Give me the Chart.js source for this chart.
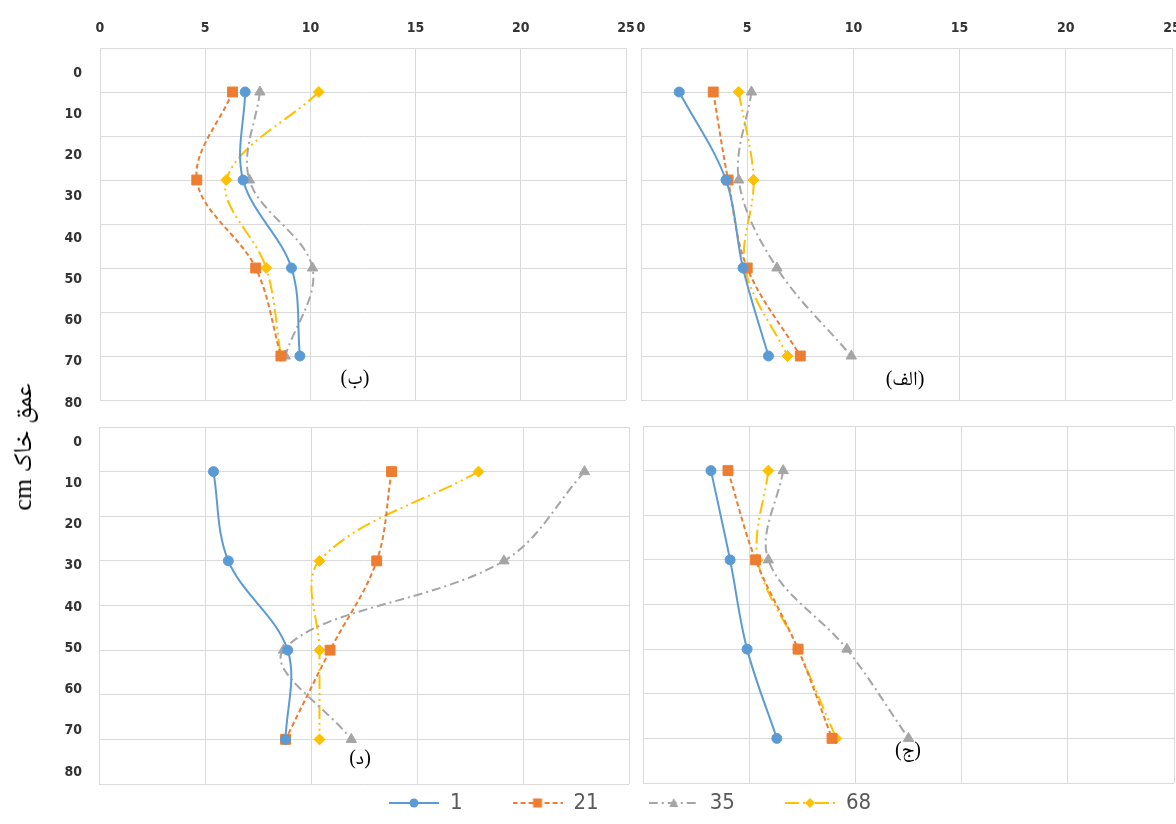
<!DOCTYPE html>
<html><head><meta charset="utf-8">
<script src="https://cdn.jsdelivr.net/npm/chart.js@4.4.1/dist/chart.umd.min.js"></script>
<style>
html,body{margin:0;padding:0;background:#fff;overflow:hidden;width:1176px;height:824px;}
canvas{position:absolute;}
.lbl{position:absolute;font-family:"Liberation Serif","Noto Naskh Arabic","DejaVu Sans",serif;font-size:20px;color:#000;white-space:nowrap;transform:translate(-50%,-50%);}
#ytitle{position:absolute;left:25px;top:447px;font-family:"Liberation Serif","Noto Naskh Arabic","DejaVu Sans",serif;font-size:26px;color:#000;white-space:nowrap;transform:translate(-50%,-50%) rotate(-90deg);}
</style></head><body>
<canvas id="pTL"></canvas><canvas id="pTR"></canvas><canvas id="pBL"></canvas><canvas id="pBR"></canvas>
<canvas id="yTop"></canvas><canvas id="yBot"></canvas><canvas id="leg"></canvas>
<div class="lbl" dir="rtl" style="left:355px;top:380px">(ب)</div>
<div class="lbl" dir="rtl" style="left:905px;top:381px">(الف)</div>
<div class="lbl" dir="rtl" style="left:360px;top:760px">(د)</div>
<div class="lbl" dir="rtl" style="left:908px;top:752px">(ج)</div>
<div id="ytitle" dir="rtl">عمق خاک cm</div>
<script>
// ---- data ----
const depths = [10, 30, 50, 70];
const seriesNames = ['1', '21', '35', '68'];
const xTickValues = [0, 5, 10, 15, 20, 25];
const yTickValues = [0, 10, 20, 30, 40, 50, 60, 70, 80];

// panel (الف) – top right
const alef1  = [1.8, 4.0, 4.8, 6.0];
const alef21 = [3.4, 4.1, 5.0, 7.5];
const alef35 = [5.2, 4.6, 6.4, 9.9];
const alef68 = [4.6, 5.3, 4.9, 6.9];
// panel (ب) – top left
const be1  = [6.9, 6.8, 9.1, 9.5];
const be21 = [6.3, 4.6, 7.4, 8.6];
const be35 = [7.6, 7.1, 10.1, 8.8];
const be68 = [10.4, 6.0, 7.9, 8.6];
// panel (ج) – bottom right
const jim1  = [3.2, 4.1, 4.9, 6.3];
const jim21 = [4.0, 5.3, 7.3, 8.9];
const jim35 = [6.6, 5.9, 9.6, 12.5];
const jim68 = [5.9, 5.4, 7.3, 9.1];
// panel (د) – bottom left
const dal1  = [5.4, 6.1, 8.9, 8.8];
const dal21 = [13.8, 13.1, 10.9, 8.8];
const dal35 = [22.9, 19.1, 8.7, 11.9];
const dal68 = [17.9, 10.4, 10.4, 10.4];

// ---- styles ----
const styles = [
  {color:'#5B9BD5', dash:[], point:'circle', r:5},
  {color:'#ED7D31', dash:[5,3], point:'rect', r:7},
  {color:'#A5A5A5', dash:[9,4,2,4], point:'triangle', r:6},
  {color:'#FFC000', dash:[14,4,2,4,2,4], point:'rectRot', r:5.5}
];
const gridColor = '#DADADA';
const tickFont = {family:'"Liberation Sans Narrow","DejaVu Sans Condensed","Liberation Sans",sans-serif', size:14, weight:'bold'};
const tickColor = '#333';

const xMin = xTickValues[0], xMax = xTickValues[xTickValues.length-1], xStep = xTickValues[1]-xTickValues[0];
const yMin = yTickValues[0], yMax = yTickValues[yTickValues.length-1], yStep = yTickValues[1]-yTickValues[0];

function buildDatasets(vals){
  return vals.map((arr, i) => ({
    label: seriesNames[i],
    data: arr.map((v, k) => ({x: v, y: depths[k]})),
    showLine: true,
    tension: 0.35,
    borderColor: styles[i].color,
    borderWidth: 2,
    borderDash: styles[i].dash,
    pointStyle: styles[i].point,
    pointRadius: styles[i].r,
    pointBackgroundColor: styles[i].color,
    pointBorderColor: styles[i].color,
    pointBorderWidth: 1
  }));
}

function makePanel(id, areaLeft, areaTop, areaW, areaH, vals, showX){
  const cv = document.getElementById(id);
  const padL = 12, padR = 12, padB = 2;
  const topSpace = showX ? areaTop : 2;
  const cTop = showX ? 0 : areaTop - 2;
  cv.width = areaW + padL + padR; cv.height = topSpace + areaH + padB;
  cv.style.left = (areaLeft - padL) + 'px'; cv.style.top = cTop + 'px';
  new Chart(cv, {
    type: 'scatter',
    data: {datasets: buildDatasets(vals)},
    options: {
      responsive:false, animation:false, devicePixelRatio:1,
      layout:{autoPadding:false, padding:{left:padL, right:padR, top: showX ? 0 : 2, bottom:padB}},
      plugins:{legend:{display:false}, tooltip:{enabled:false}},
      scales:{
        x:{type:'linear', position:'top', min:xMin, max:xMax,
           ticks:{stepSize:xStep, display:showX, font:tickFont, color:tickColor, padding:11, maxRotation:0},
           grid:{color:gridColor, drawTicks:false, lineWidth:1},
           border:{color:gridColor},
           afterFit:(s)=>{ s.height = showX ? areaTop : 0; s.paddingLeft = 0; s.paddingRight = 0; }},
        y:{type:'linear', position:'left', reverse:true, min:yMin, max:yMax,
           ticks:{stepSize:yStep, display:false},
           grid:{color:gridColor, drawTicks:false, lineWidth:1},
           border:{color:gridColor},
           afterFit:(s)=>{ s.width = 0; s.paddingTop = 0; s.paddingBottom = 0; }}
      }
    }
  });
}

makePanel('pTL', 100, 48, 526, 352, [be1, be21, be35, be68], true);
makePanel('pTR', 641, 48, 531, 352, [alef1, alef21, alef35, alef68], true);
makePanel('pBL', 99, 427, 530, 357, [dal1, dal21, dal35, dal68], false);
makePanel('pBR', 643, 426, 531, 357, [jim1, jim21, jim35, jim68], false);

// y-axis tick label columns
function makeYLabels(id, firstY, lastY){
  const cv = document.getElementById(id);
  const pad = 10;
  cv.width = 70; cv.height = (lastY - firstY) + 2*pad;
  cv.style.left = '30px'; cv.style.top = (firstY - pad) + 'px';
  new Chart(cv, {
    type:'scatter', data:{datasets:[]},
    options:{
      responsive:false, animation:false, devicePixelRatio:1,
      layout:{autoPadding:false, padding:{top:pad, bottom:pad, left:0, right:0}},
      plugins:{legend:{display:false}, tooltip:{enabled:false}},
      scales:{
        x:{display:false, min:0, max:1},
        y:{type:'linear', position:'left', reverse:true, min:yMin, max:yMax,
           ticks:{stepSize:yStep, font:tickFont, color:tickColor, padding:0},
           grid:{display:false, drawTicks:false}, border:{display:false},
           afterFit:(s)=>{ s.width = 52; s.paddingTop = 0; s.paddingBottom = 0; }}
      }
    }
  });
}
makeYLabels('yTop', 73, 403);
makeYLabels('yBot', 442, 772);

// legend
function sampleImage(st){
  const c = document.createElement('canvas');
  c.width = 50; c.height = 16;
  const g = c.getContext('2d');
  g.strokeStyle = st.color; g.lineWidth = 2; g.setLineDash(st.dash);
  g.beginPath(); g.moveTo(0, 8); g.lineTo(50, 8); g.stroke();
  g.setLineDash([]); g.fillStyle = st.color;
  const cx = 25, cy = 8;
  g.beginPath();
  if (st.point === 'circle') { g.arc(cx, cy, 4.5, 0, Math.PI*2); }
  else if (st.point === 'rect') { g.rect(cx-4.5, cy-4.5, 9, 9); }
  else if (st.point === 'triangle') { g.moveTo(cx, cy-5); g.lineTo(cx+4.5, cy+4); g.lineTo(cx-4.5, cy+4); g.closePath(); }
  else { g.moveTo(cx, cy-5); g.lineTo(cx+5, cy); g.lineTo(cx, cy+5); g.lineTo(cx-5, cy); g.closePath(); }
  g.fill();
  return c;
}
(function(){
  const cv = document.getElementById('leg');
  cv.width = 1000; cv.height = 260;
  cv.style.left = '130px'; cv.style.top = '742px';
  const imgs = styles.map(sampleImage);
  new Chart(cv, {
    type:'scatter',
    data:{datasets: seriesNames.map((n, i) => ({label:n, data:[], borderColor:styles[i].color, backgroundColor:styles[i].color}))},
    options:{
      responsive:false, animation:false, devicePixelRatio:1,
      layout:{autoPadding:false, padding:0},
      scales:{x:{display:false}, y:{display:false}},
      plugins:{tooltip:{enabled:false},
        legend:{display:true, position:'top', maxHeight:200,
          labels:{usePointStyle:true, pointStyleWidth:50, padding:50,
            font:{family:'"Liberation Sans Narrow","DejaVu Sans Condensed","Liberation Sans",sans-serif', size:22},
            color:'#595959',
            generateLabels:(chart)=>chart.data.datasets.map((ds, i)=>({
              text: ds.label, pointStyle: imgs[i], fillStyle: ds.backgroundColor,
              strokeStyle: ds.borderColor, lineWidth: 0, hidden:false, datasetIndex:i, fontColor:'#595959'
            }))
          }}
      }
    }
  });
})();
</script>
</body></html>
